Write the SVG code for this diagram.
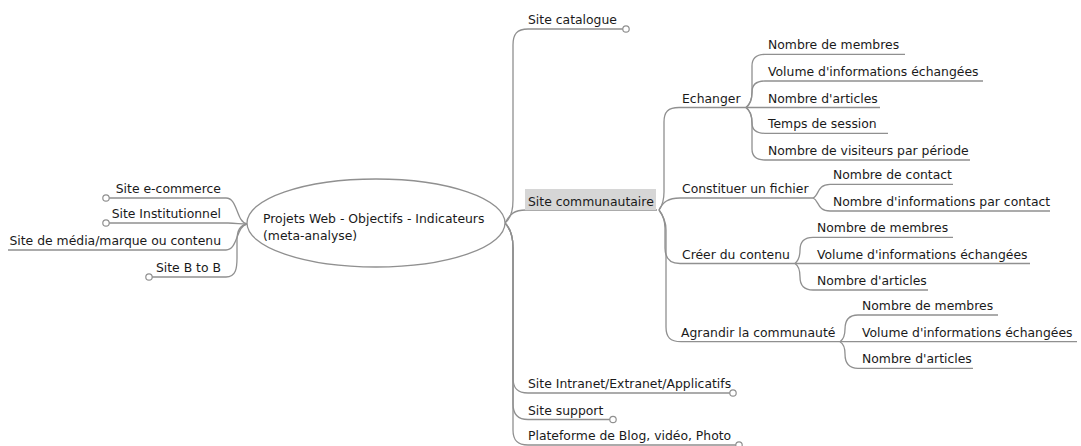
<svg xmlns="http://www.w3.org/2000/svg" width="1081" height="446" viewBox="0 0 1081 446">
<style>
text{font-family:"DejaVu Sans","Liberation Sans",sans-serif;font-size:12.4px;fill:#1a1a1a}
.c{fill:none;stroke:#909090;stroke-width:1.3}
.k{fill:#fff;stroke:#909090;stroke-width:1.2}
.e{text-anchor:end}
</style>
<rect width="1081" height="446" fill="#fff"/>
<g id="connectors">
<path class="c" d="M109 198 L226 198 C238 198,236 222,247 224"/>
<path class="c" d="M109 223 L228 223 C236 223,240 224,247 224"/>
<path class="c" d="M8 250 L226 250 C238 250,236 226,247 224"/>
<path class="c" d="M152 277 L226 277 C236 277,237 268,237 258 L237 240 C237 230,241 225,247 224"/>
<path class="c" d="M505 223 C510 219,513 212,513 200 L513 45 C513 34,517 29,528 29 L623 29"/>
<path class="c" d="M505 223 C510 214,514 210,526 210 L657 210"/>
<path class="c" d="M505 223 C510 228,513 236,513 248 L513 378 C513 388,517 393,528 393 L730 393"/>
<path class="c" d="M505 223 C510 228,513 236,513 248 L513 404 C513 414,517 419.5,528 419.5 L610 419.5"/>
<path class="c" d="M505 223 C510 228,513 236,513 248 L513 430 C513 440,517 445,528 445 L736 445"/>
<path class="c" d="M659 210 C662 206,664 200,664 192 L664 122 C664 112,668 107.5,679 107.5 L746 107.5"/>
<path class="c" d="M659 210 C663 202,668 198,680 198 L813 198"/>
<path class="c" d="M659 210 C662 214,665 220,665 228 L665 248 C665 258,669 263.5,680 263.5 L795 263.5"/>
<path class="c" d="M659 210 C662 214,666 220,666 230 L666 327 C666 337,670 341.7,681 341.7 L840 341.7"/>
<path class="c" d="M746 107.5 C750 105,752 100,752 92 L752 66 C752 58,756 54.3,765 54.3 L905 54.3"/>
<path class="c" d="M746 107.5 C750 104,752 98,752 92 C752 85,756 81,765 81 L983 81"/>
<path class="c" d="M746 107.5 L880 107.5"/>
<path class="c" d="M746 107.5 C750 111,752 117,752 123 C752 130,756 133.3,765 133.3 L888 133.3"/>
<path class="c" d="M746 107.5 C750 110,752 115,752 123 L752 149 C752 156,756 160,765 160 L970 160"/>
<path class="c" d="M813 198 C819 196,817 184.3,830 184.3 L953 184.3"/>
<path class="c" d="M813 198 C819 200,817 211,830 211 L1050 211"/>
<path class="c" d="M795 263.5 C799 260,800 256,800 250 C800 242,804 237.3,813 237.3 L953 237.3"/>
<path class="c" d="M795 263.5 L1030 263.5"/>
<path class="c" d="M795 263.5 C799 266,800 270,800 277 C800 285,804 290,813 290 L928 290"/>
<path class="c" d="M840 341.7 C844 339,845 335,845 329 C845 320,849 315,858 315 L998 315"/>
<path class="c" d="M840 341.7 L1077 341.7"/>
<path class="c" d="M840 341.7 C844 344,845 348,845 354 C845 363,849 368.3,858 368.3 L973 368.3"/>
</g>
<g id="root">
<ellipse cx="376" cy="223" rx="129" ry="44" fill="#fff" stroke="#909090" stroke-width="1.3"/>
<text x="263" y="222.5">Projets Web - Objectifs - Indicateurs</text>
<text x="263" y="240">(meta-analyse)</text>
</g>
<g id="n-ecommerce"><circle class="k" cx="106" cy="198" r="3.2"/><text class="e" x="221" y="193">Site e-commerce</text></g>
<g id="n-institutionnel"><circle class="k" cx="106" cy="223" r="3.2"/><text class="e" x="221" y="218">Site Institutionnel</text></g>
<g id="n-media"><text class="e" x="221" y="245">Site de média/marque ou contenu</text></g>
<g id="n-btob"><circle class="k" cx="149" cy="277" r="3.2"/><text class="e" x="221" y="272">Site B to B</text></g>
<g id="n-catalogue"><circle class="k" cx="626" cy="29" r="3.2"/><text x="528" y="24">Site catalogue</text></g>
<g id="n-communautaire"><rect x="525" y="189" width="131" height="21" fill="#d6d6d6"/><text x="528" y="205.5">Site communautaire</text></g>
<g id="n-echanger"><text x="682" y="102.5">Echanger</text></g>
<g id="n-e1"><text x="768" y="49.3">Nombre de membres</text></g>
<g id="n-e2"><text x="768" y="76">Volume d'informations échangées</text></g>
<g id="n-e3"><text x="768" y="102.7">Nombre d'articles</text></g>
<g id="n-e4"><text x="768" y="128.3">Temps de session</text></g>
<g id="n-e5"><text x="768" y="155">Nombre de visiteurs par période</text></g>
<g id="n-constituer"><text x="682" y="193">Constituer un fichier</text></g>
<g id="n-c1"><text x="833" y="179.3">Nombre de contact</text></g>
<g id="n-c2"><text x="833" y="206">Nombre d'informations par contact</text></g>
<g id="n-creer"><text x="682" y="258.5">Créer du contenu</text></g>
<g id="n-r1"><text x="817" y="232.3">Nombre de membres</text></g>
<g id="n-r2"><text x="817" y="258.5">Volume d'informations échangées</text></g>
<g id="n-r3"><text x="817" y="285">Nombre d'articles</text></g>
<g id="n-agrandir"><text x="681" y="337">Agrandir la communauté</text></g>
<g id="n-a1"><text x="862" y="310">Nombre de membres</text></g>
<g id="n-a2"><text x="862" y="336.7">Volume d'informations échangées</text></g>
<g id="n-a3"><text x="862" y="363.3">Nombre d'articles</text></g>
<g id="n-intranet"><circle class="k" cx="733" cy="393" r="3.2"/><text x="528" y="388">Site Intranet/Extranet/Applicatifs</text></g>
<g id="n-support"><circle class="k" cx="613" cy="419.5" r="3.2"/><text x="528" y="414.5">Site support</text></g>
<g id="n-plateforme"><circle class="k" cx="739" cy="445" r="3.2"/><text x="528" y="440">Plateforme de Blog, vidéo, Photo</text></g>
</svg>
